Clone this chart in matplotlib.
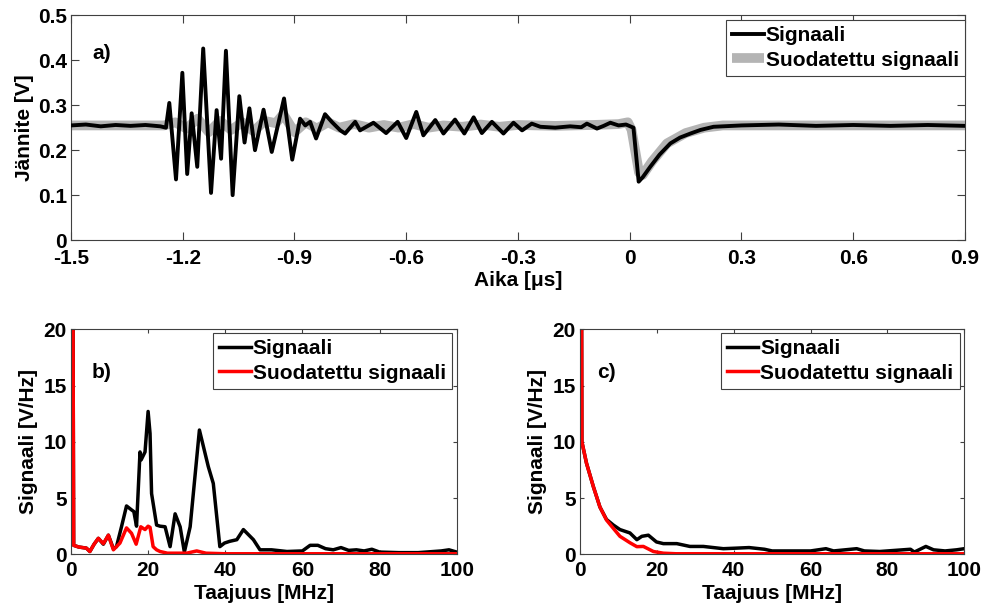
import matplotlib
matplotlib.use("Agg")
import matplotlib.pyplot as plt

plt.rcParams['font.family'] = ['Liberation Sans', 'DejaVu Sans']
plt.rcParams['font.weight'] = 'bold'
plt.rcParams['font.size'] = 15

# a) aikatason signaali [us, V]
t_sig = [-1.50, -1.46, -1.42, -1.38, -1.34, -1.30, -1.26, -1.245, -1.236, -1.218, -1.201, -1.188,
         -1.176, -1.161, -1.145, -1.124, -1.109, -1.097, -1.084, -1.066, -1.048, -1.034, -1.021,
         -1.006, -0.983, -0.961, -0.928, -0.906, -0.885, -0.871, -0.858, -0.842, -0.818, -0.800,
         -0.777, -0.764, -0.737, -0.724, -0.688, -0.654, -0.623, -0.600, -0.573, -0.554, -0.522,
         -0.500, -0.469, -0.444, -0.419, -0.397, -0.370, -0.339, -0.312, -0.289, -0.263, -0.240,
         -0.200, -0.160, -0.130, -0.115, -0.088, -0.070, -0.052, -0.030, -0.010, 0.010, 0.024,
         0.035, 0.055, 0.080, 0.109, 0.135, 0.163, 0.190, 0.225, 0.300, 0.400, 0.500, 0.600,
         0.700, 0.800, 0.900]
v_sig = [0.255, 0.257, 0.253, 0.256, 0.254, 0.256, 0.253, 0.250, 0.305, 0.135, 0.372, 0.147,
         0.282, 0.163, 0.426, 0.105, 0.289, 0.181, 0.421, 0.100, 0.320, 0.217, 0.293,
         0.200, 0.290, 0.196, 0.315, 0.179, 0.270, 0.255, 0.263, 0.226, 0.280, 0.263,
         0.244, 0.237, 0.263, 0.244, 0.261, 0.238, 0.263, 0.227, 0.285, 0.233, 0.267,
         0.237, 0.268, 0.237, 0.273, 0.238, 0.263, 0.237, 0.261, 0.244, 0.259, 0.252,
         0.250, 0.253, 0.251, 0.259, 0.248, 0.254, 0.261, 0.255, 0.257, 0.250, 0.130,
         0.140, 0.163, 0.190, 0.215, 0.228, 0.237, 0.245, 0.252, 0.255, 0.257, 0.254, 0.256,
         0.254, 0.256, 0.254]

t_filt = [-1.50, -1.25, -1.22, -1.19, -1.16, -1.13, -1.10, -1.07, -1.04, -1.01, -0.98, -0.95,
          -0.93, -0.90, -0.87, -0.84, -0.81, -0.78, -0.74, -0.70, -0.66, -0.62, -0.58, -0.54,
          -0.50, -0.45, -0.40, -0.35, -0.30, -0.20, -0.10, -0.03, -0.005, 0.005, 0.025, 0.035,
          0.060, 0.100, 0.150, 0.200, 0.250, 0.900]
v_filt = [0.255, 0.255, 0.262, 0.248, 0.270, 0.240, 0.265, 0.245, 0.262, 0.242, 0.265, 0.260,
          0.280, 0.240, 0.262, 0.248, 0.262, 0.250, 0.258, 0.250, 0.256, 0.250, 0.258, 0.250,
          0.255, 0.252, 0.257, 0.252, 0.256, 0.254, 0.256, 0.258, 0.262, 0.245, 0.150, 0.145,
          0.175, 0.215, 0.238, 0.250, 0.255, 0.255]

# b) spektri [MHz, V/Hz]
f_b_sig = [0.4, 0.5, 0.7, 2, 4, 4.9, 6, 7.1, 8.4, 9.7, 11.0, 11.8, 13.1, 14.4, 15.7, 16.3, 17.0,
           17.9, 18.2, 19.2, 20.0, 20.5, 20.9, 22.2, 23.1, 24.4, 25.7, 27.0, 28.3, 29.4, 30.9,
           33.3, 35.6, 36.9, 38.6, 39.8, 41.1, 43.0, 44.7, 47.3, 49.0, 52, 56, 60, 62, 64, 66,
           68, 70, 72, 74, 76, 78, 80, 85, 90, 96, 98, 100]
a_b_sig = [25, 25, 0.8, 0.65, 0.55, 0.25, 0.9, 1.42, 0.9, 1.7, 0.5, 0.68, 2.45, 4.3, 3.95, 3.8, 2.5,
           9.1, 8.4, 9.1, 12.7, 10.75, 5.4, 2.6, 2.5, 2.45, 0.68, 3.6, 2.45, 0.2, 2.45,
           11.05, 7.8, 6.3, 0.68, 1.0, 1.15, 1.3, 2.2, 1.3, 0.4, 0.4, 0.25, 0.3, 0.8, 0.8, 0.5,
           0.4, 0.6, 0.35, 0.4, 0.3, 0.45, 0.2, 0.15, 0.15, 0.3, 0.4, 0.2]
f_b_filt = [0.4, 0.5, 0.7, 2, 4, 4.9, 6, 7.1, 8.4, 9.7, 11.0, 12.7, 14.4, 15.7, 16.9, 18.1, 19.2,
            20.0, 20.5, 21.3, 22.2, 23.1, 25, 30, 32.6, 35, 40, 50, 60, 80, 100]
a_b_filt = [25, 25, 0.8, 0.65, 0.55, 0.25, 0.9, 1.42, 0.95, 1.7, 0.4, 1.0, 2.35, 1.87, 0.9, 2.45,
            2.2, 2.5, 2.4, 0.68, 0.4, 0.25, 0.1, 0.1, 0.3, 0.1, 0.05, 0.05, 0.05, 0.05, 0.05]

# c) spektri
f_c_sig = [0.4, 0.5, 1.7, 3.5, 5.2, 6.9, 8.7, 10.4, 13.0, 14.8, 16.1, 17.8, 19.9, 21.7, 25.2, 28.6,
           32.1, 37.3, 40.8, 44, 48, 50, 55, 60, 64, 66, 72, 74, 78, 84, 86, 87, 90, 92, 95, 98, 100]
a_c_sig = [25, 10.0, 8.1, 6.0, 4.2, 3.1, 2.6, 2.2, 1.9, 1.3, 1.6, 1.7, 1.1, 0.95, 0.95, 0.7,
           0.7, 0.5, 0.55, 0.6, 0.45, 0.3, 0.3, 0.3, 0.5, 0.3, 0.5, 0.3, 0.25, 0.4, 0.45, 0.2, 0.7,
           0.4, 0.3, 0.4, 0.5]
f_c_filt = [0.4, 0.5, 1.7, 3.5, 5.2, 6.9, 8.7, 10.4, 13.0, 14.8, 16.5, 19.1, 21.7, 25, 40, 60, 80, 100]
a_c_filt = [25, 10.0, 8.1, 6.0, 4.2, 3.05, 2.3, 1.6, 1.03, 0.68, 0.7, 0.25, 0.1, 0.05, 0.05, 0.05,
            0.05, 0.05]

time_ticks = [-1.5, -1.2, -0.9, -0.6, -0.3, 0, 0.3, 0.6, 0.9]
time_labels = ['-1.5', '-1.2', '-0.9', '-0.6', '-0.3', '0', '0.3', '0.6', '0.9']
volt_ticks = [0, 0.1, 0.2, 0.3, 0.4, 0.5]
volt_labels = ['0', '0.1', '0.2', '0.3', '0.4', '0.5']
freq_ticks = [0, 20, 40, 60, 80, 100]
amp_ticks = [0, 5, 10, 15, 20]

box_col = '#404040'


def style_axes(ax, ticklen, xpad=5):
    for s in ax.spines.values():
        s.set_color(box_col)
        s.set_linewidth(0.8)
    ax.tick_params(direction='in', top=True, right=True, length=ticklen,
                   color=box_col, labelsize=15)
    ax.tick_params(axis='x', pad=xpad)
    ax.tick_params(axis='y', pad=3)
    for lab in ax.get_xticklabels() + ax.get_yticklabels():
        lab.set_fontweight('bold')


def legend(ax, anchor, handles=None, labels=None):
    if handles is None:
        handles, labels = ax.get_legend_handles_labels()
    leg = ax.legend(handles, labels, loc='upper right', bbox_to_anchor=anchor,
                    borderaxespad=0, fancybox=False, framealpha=1, edgecolor=box_col,
                    fontsize=15, handlelength=1.5, handletextpad=0.1, labelspacing=0.25,
                    borderpad=0.3)
    leg.get_frame().set_linewidth(0.8)
    return leg


fig = plt.figure(figsize=(9.87, 6.08), dpi=100)

# a)
ax1 = fig.add_axes([0.0719, 0.605, 0.9058, 0.370])
ax1.plot(t_filt, v_filt, color='#b4b4b4', lw=7, solid_capstyle='butt',
         label='Suodatettu signaali', zorder=2)
ax1.plot(t_sig, v_sig, color='black', lw=2.8, solid_joinstyle='round',
         label='Signaali', zorder=3)
ax1.set_xlim(-1.5, 0.9)
ax1.set_ylim(0, 0.5)
ax1.set_xticks(time_ticks)
ax1.set_xticklabels(time_labels)
ax1.set_yticks(volt_ticks)
ax1.set_yticklabels(volt_labels)
ax1.set_xlabel('Aika [μs]', fontweight='bold', labelpad=2)
ax1.set_ylabel('Jännite [V]', fontweight='bold', labelpad=3)
ax1.text(0.0235, 0.83, 'a)', transform=ax1.transAxes, va='center',
         fontweight='bold', fontsize=15)
style_axes(ax1, 6, xpad=6.5)
h, l = ax1.get_legend_handles_labels()
legend(ax1, (1.0, 0.978), h[::-1], l[::-1])

# b)
ax2 = fig.add_axes([0.0719, 0.0883, 0.3908, 0.370])
ax2.plot(f_b_sig, a_b_sig, color='black', lw=2.5, solid_joinstyle='round', label='Signaali')
ax2.plot(f_b_filt, a_b_filt, color='red', lw=2.5, solid_joinstyle='round',
         label='Suodatettu signaali')
ax2.set_xlim(0, 100)
ax2.set_ylim(0, 20)
ax2.set_xticks(freq_ticks)
ax2.set_yticks(amp_ticks)
ax2.set_xlabel('Taajuus [MHz]', fontweight='bold', labelpad=3)
ax2.set_ylabel('Signaali [V/Hz]', fontweight='bold', labelpad=4)
ax2.text(0.054, 0.81, 'b)', transform=ax2.transAxes, va='center',
         fontweight='bold', fontsize=15)
style_axes(ax2, 3)
legend(ax2, (0.988, 0.983))

# c)
ax3 = fig.add_axes([0.5876, 0.0883, 0.3894, 0.370])
ax3.plot(f_c_sig, a_c_sig, color='black', lw=2.5, solid_joinstyle='round', label='Signaali')
ax3.plot(f_c_filt, a_c_filt, color='red', lw=2.5, solid_joinstyle='round',
         label='Suodatettu signaali')
ax3.set_xlim(0, 100)
ax3.set_ylim(0, 20)
ax3.set_xticks(freq_ticks)
ax3.set_yticks(amp_ticks)
ax3.set_xlabel('Taajuus [MHz]', fontweight='bold', labelpad=3)
ax3.set_ylabel('Signaali [V/Hz]', fontweight='bold', labelpad=4)
ax3.text(0.044, 0.81, 'c)', transform=ax3.transAxes, va='center',
         fontweight='bold', fontsize=15)
style_axes(ax3, 3)
legend(ax3, (0.988, 0.983))

fig.savefig('out.png', dpi=100)
